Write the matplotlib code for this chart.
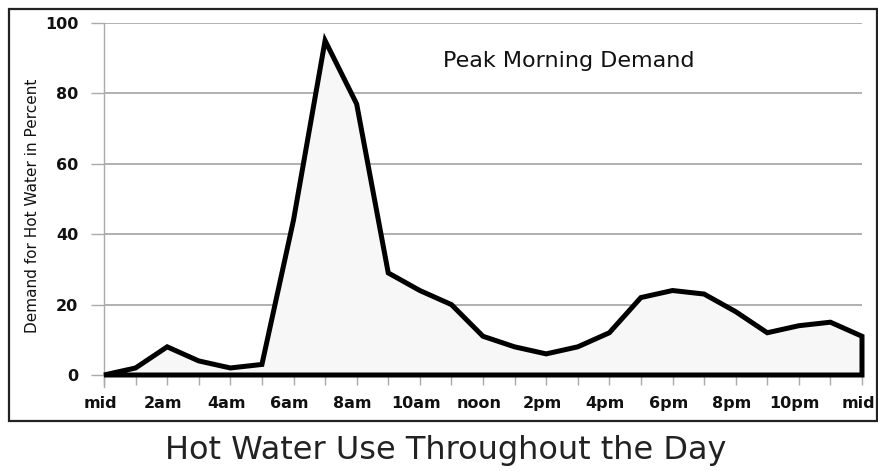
import numpy as np
import matplotlib
matplotlib.use("Agg")
import matplotlib.pyplot as plt
from matplotlib.patches import Rectangle
from matplotlib.transforms import ScaledTranslation

# Hourly demand, midnight to midnight
hours = list(range(25))
demand = [0, 2, 8, 4, 2, 3, 44, 95, 77, 29, 24, 20, 11, 8, 6, 8,
          12, 22, 24, 23, 18, 12, 14, 15, 11]
tick_names = ['mid', '2am', '4am', '6am', '8am', '10am', 'noon',
              '2pm', '4pm', '6pm', '8pm', '10pm', 'mid']
y_ticks = [0, 20, 40, 60, 80, 100]

fig = plt.figure(figsize=(8.79, 4.71), dpi=100)
ax = fig.add_axes([104/879, 96/471, 758/879, 352/471])

# filled area with heavy outline (closed along the baseline)
xs = hours + [hours[-1], hours[0]]
ys = demand + [0, 0]
ax.fill(xs, ys, facecolor='#f7f7f7', edgecolor='black', linewidth=3.6,
        joinstyle='miter', clip_on=False, zorder=3)

ax.set_xlim(0, 24)
ax.set_ylim(0, 100)

ax.set_yticks(y_ticks)
ax.set_yticklabels([str(v) for v in y_ticks])
ax.yaxis.grid(True, color='#aaaaaa', linewidth=1.3)
ax.set_axisbelow(True)

labels = []
for h in hours:
    labels.append(tick_names[h // 2] if h % 2 == 0 else '')
ax.set_xticks(hours)
ax.set_xticklabels(labels)

ax.tick_params(axis='y', length=9.4, width=1, color='#aaaaaa', pad=9,
               labelsize=11.5)
ax.tick_params(axis='x', length=7, width=1, color='#aaaaaa', pad=8,
               labelsize=11.5)
for lab in ax.get_xticklabels() + ax.get_yticklabels():
    lab.set_fontweight('bold')
    lab.set_color('#111111')
shift = ScaledTranslation(-4/100, 0, fig.dpi_scale_trans)
for lab in ax.get_xticklabels():
    lab.set_transform(lab.get_transform() + shift)

for s in ['top', 'right', 'bottom']:
    ax.spines[s].set_visible(False)
ax.spines['left'].set_color('#aaaaaa')
ax.spines['left'].set_linewidth(1)
ax.spines['left'].set_bounds(-3.4, 100)

ax.text(14.72, 89.2, 'Peak Morning Demand', ha='center', va='center',
        fontsize=16, color='#111111')

fig.text(33/879, 1 - 206/471, 'Demand for Hot Water in Percent',
         rotation=90, ha='center', va='center', fontsize=11, color='#111111')

fig.text(446/879, 1 - 450/471, 'Hot Water Use Throughout the Day',
         ha='center', va='center', fontsize=23, color='#222222')

# outer frame around the chart
fig.patches.append(Rectangle((9/879, 1 - 421/471), 868/879, 412/471,
                             transform=fig.transFigure, fill=False,
                             edgecolor='#222222', linewidth=1.6))

fig.savefig('out.png', dpi=100)
